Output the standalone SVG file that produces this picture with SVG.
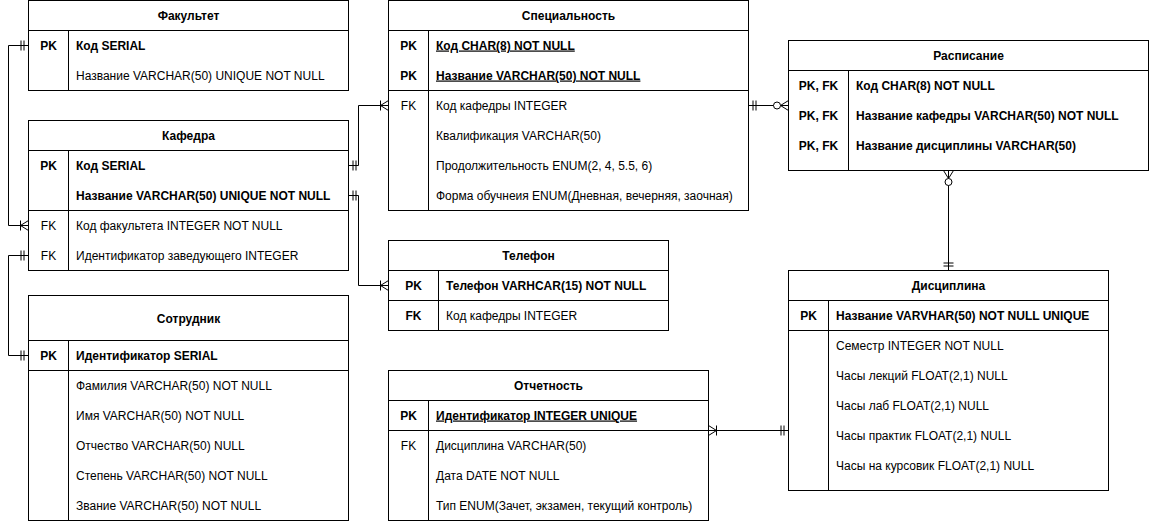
<svg xmlns="http://www.w3.org/2000/svg" xmlns:xlink="http://www.w3.org/1999/xlink" width="1149" height="521" viewBox="0 0 1149 521">
<style>
.box{fill:#fff;stroke:#000;stroke-width:1}
.ln{fill:none;stroke:#000;stroke-width:1}
text{font-family:"Liberation Sans",Arial,sans-serif;font-size:12px;fill:#000}
.t{font-weight:bold;text-anchor:middle}
.k{text-anchor:middle}
.b{font-weight:bold}
.u{text-decoration:underline}
.con{fill:none;stroke:#000;stroke-width:1}
</style>
<defs>
<g id="one"><path class="con" d="M-4.5 -5V5M-7.5 -5V5"/></g>
<g id="manyOne"><path class="con" d="M0 -5L-8 0L0 5M-8 -5V5"/></g>
<g id="manyZero"><path class="con" d="M0 -5L-8 0L0 5"/><circle cx="-11.5" cy="0" r="3.5" fill="#fff" stroke="#000" stroke-width="1"/></g>
</defs>

<g id="connectors">
<path class="con" d="M28.5 45.5H8.5V225.5H28.5"/>
<path class="con" d="M28.5 255.5H8.5V355.5H28.5"/>
<path class="con" d="M348.5 165.5H358.5V105.5H388.5"/>
<path class="con" d="M348.5 195.5H358.5V285.5H388.5"/>
<path class="con" d="M748.5 105.5H788.5"/>
<path class="con" d="M948.5 170.5V270.5"/>
<path class="con" d="M708.5 430.5H788.5"/>
<use xlink:href="#one" transform="translate(28.5,45.5)"/>
<use xlink:href="#manyOne" transform="translate(28.5,225.5)"/>
<use xlink:href="#one" transform="translate(28.5,255.5)"/>
<use xlink:href="#one" transform="translate(28.5,355.5)"/>
<use xlink:href="#one" transform="translate(348.5,165.5) rotate(180)"/>
<use xlink:href="#manyOne" transform="translate(388.5,105.5)"/>
<use xlink:href="#one" transform="translate(348.5,195.5) rotate(180)"/>
<use xlink:href="#manyOne" transform="translate(388.5,285.5)"/>
<use xlink:href="#one" transform="translate(748.5,105.5) rotate(180)"/>
<use xlink:href="#manyZero" transform="translate(788.5,105.5)"/>
<use xlink:href="#manyZero" transform="translate(948.5,170.5) rotate(-90)"/>
<use xlink:href="#one" transform="translate(948.5,270.5) rotate(90)"/>
<use xlink:href="#manyOne" transform="translate(708.5,430.5) rotate(180)"/>
<use xlink:href="#one" transform="translate(788.5,430.5)"/>
</g>

<g id="fakultet">
<rect class="box" x="28.5" y="0.5" width="320" height="90"/>
<path class="ln" d="M28.5 30.5H348.5M68.5 30.5V90.5"/>
<text class="t" x="188.5" y="19.5">Факультет</text>
<text class="k b" x="48.5" y="49.5">PK</text>
<text class="b" x="76" y="49.5">Код SERIAL</text>
<text x="76" y="79.5">Название VARCHAR(50) UNIQUE NOT NULL</text>
</g>

<g id="kafedra">
<rect class="box" x="28.5" y="120.5" width="320" height="150"/>
<path class="ln" d="M28.5 150.5H348.5M28.5 210.5H348.5M68.5 150.5V270.5"/>
<text class="t" x="188.5" y="139.5">Кафедра</text>
<text class="k b" x="48.5" y="169.5">PK</text>
<text class="b" x="76" y="169.5">Код SERIAL</text>
<text class="b" x="76" y="199.5">Название VARCHAR(50) UNIQUE NOT NULL</text>
<text class="k" x="48.5" y="229.5">FK</text>
<text x="76" y="229.5">Код факультета INTEGER NOT NULL</text>
<text class="k" x="48.5" y="259.5">FK</text>
<text x="76" y="259.5">Идентификатор заведующего INTEGER</text>
</g>

<g id="sotrudnik">
<rect class="box" x="28.5" y="295.5" width="320" height="225"/>
<path class="ln" d="M28.5 340.5H348.5M28.5 370.5H348.5M68.5 340.5V520.5"/>
<text class="t" x="188.5" y="322.5">Сотрудник</text>
<text class="k b" x="48.5" y="359.5">PK</text>
<text class="b" x="76" y="359.5">Идентификатор SERIAL</text>
<text x="76" y="389.5">Фамилия VARCHAR(50) NOT NULL</text>
<text x="76" y="419.5">Имя VARCHAR(50) NOT NULL</text>
<text x="76" y="449.5">Отчество VARCHAR(50) NULL</text>
<text x="76" y="479.5">Степень VARCHAR(50) NOT NULL</text>
<text x="76" y="509.5">Звание VARCHAR(50) NOT NULL</text>
</g>

<g id="specialnost">
<rect class="box" x="388.5" y="0.5" width="360" height="210"/>
<path class="ln" d="M388.5 30.5H748.5M388.5 90.5H748.5M428.5 30.5V210.5"/>
<text class="t" x="568.5" y="19.5">Специальность</text>
<text class="k b" x="408.5" y="49.5">PK</text>
<text class="b u" x="436" y="49.5">Код CHAR(8) NOT NULL</text>
<text class="k b" x="408.5" y="79.5">PK</text>
<text class="b u" x="436" y="79.5">Название VARCHAR(50) NOT NULL</text>
<text class="k" x="408.5" y="109.5">FK</text>
<text x="436" y="109.5">Код кафедры INTEGER</text>
<text x="436" y="139.5">Квалификация VARCHAR(50)</text>
<text x="436" y="169.5">Продолжительность ENUM(2, 4, 5.5, 6)</text>
<text x="436" y="199.5">Форма обучнеия ENUM(Дневная, вечерняя, заочная)</text>
</g>

<g id="telefon">
<rect class="box" x="388.5" y="240.5" width="280" height="90"/>
<path class="ln" d="M388.5 270.5H668.5M388.5 300.5H668.5M438.5 270.5V330.5"/>
<text class="t" x="528.5" y="259.5">Телефон</text>
<text class="k b" x="413.5" y="289.5">PK</text>
<text class="b" x="446" y="289.5">Телефон VARHCAR(15) NOT NULL</text>
<text class="k b" x="413.5" y="319.5">FK</text>
<text x="446" y="319.5">Код кафедры INTEGER</text>
</g>

<g id="otchetnost">
<rect class="box" x="388.5" y="370.5" width="320" height="150"/>
<path class="ln" d="M388.5 400.5H708.5M388.5 430.5H708.5M428.5 400.5V520.5"/>
<text class="t" x="548.5" y="389.5">Отчетность</text>
<text class="k b" x="408.5" y="419.5">PK</text>
<text class="b u" x="436" y="419.5">Идентификатор INTEGER UNIQUE</text>
<text class="k" x="408.5" y="449.5">FK</text>
<text x="436" y="449.5">Дисциплина VARCHAR(50)</text>
<text x="436" y="479.5">Дата DATE NOT NULL</text>
<text x="436" y="509.5">Тип ENUM(Зачет, экзамен, текущий контроль)</text>
</g>

<g id="raspisanie">
<rect class="box" x="788.5" y="40.5" width="360" height="130"/>
<path class="ln" d="M788.5 70.5H1148.5M848.5 70.5V170.5"/>
<text class="t" x="968.5" y="59.5">Расписание</text>
<text class="k b" x="818.5" y="89.5">PK, FK</text>
<text class="b" x="856" y="89.5">Код CHAR(8) NOT NULL</text>
<text class="k b" x="818.5" y="119.5">PK, FK</text>
<text class="b" x="856" y="119.5">Название кафедры VARCHAR(50) NOT NULL</text>
<text class="k b" x="818.5" y="149.5">PK, FK</text>
<text class="b" x="856" y="149.5">Название дисциплины VARCHAR(50)</text>
</g>

<g id="disciplina">
<rect class="box" x="788.5" y="270.5" width="320" height="220"/>
<path class="ln" d="M788.5 300.5H1108.5M788.5 330.5H1108.5M828.5 300.5V490.5"/>
<text class="t" x="948.5" y="289.5">Дисциплина</text>
<text class="k b" x="808.5" y="319.5">PK</text>
<text class="b" x="836" y="319.5">Название VARVHAR(50) NOT NULL UNIQUE</text>
<text x="836" y="349.5">Семестр INTEGER NOT NULL</text>
<text x="836" y="379.5">Часы лекций FLOAT(2,1) NULL</text>
<text x="836" y="409.5">Часы лаб FLOAT(2,1) NULL</text>
<text x="836" y="439.5">Часы практик FLOAT(2,1) NULL</text>
<text x="836" y="469.5">Часы на курсовик FLOAT(2,1) NULL</text>
</g>
</svg>
